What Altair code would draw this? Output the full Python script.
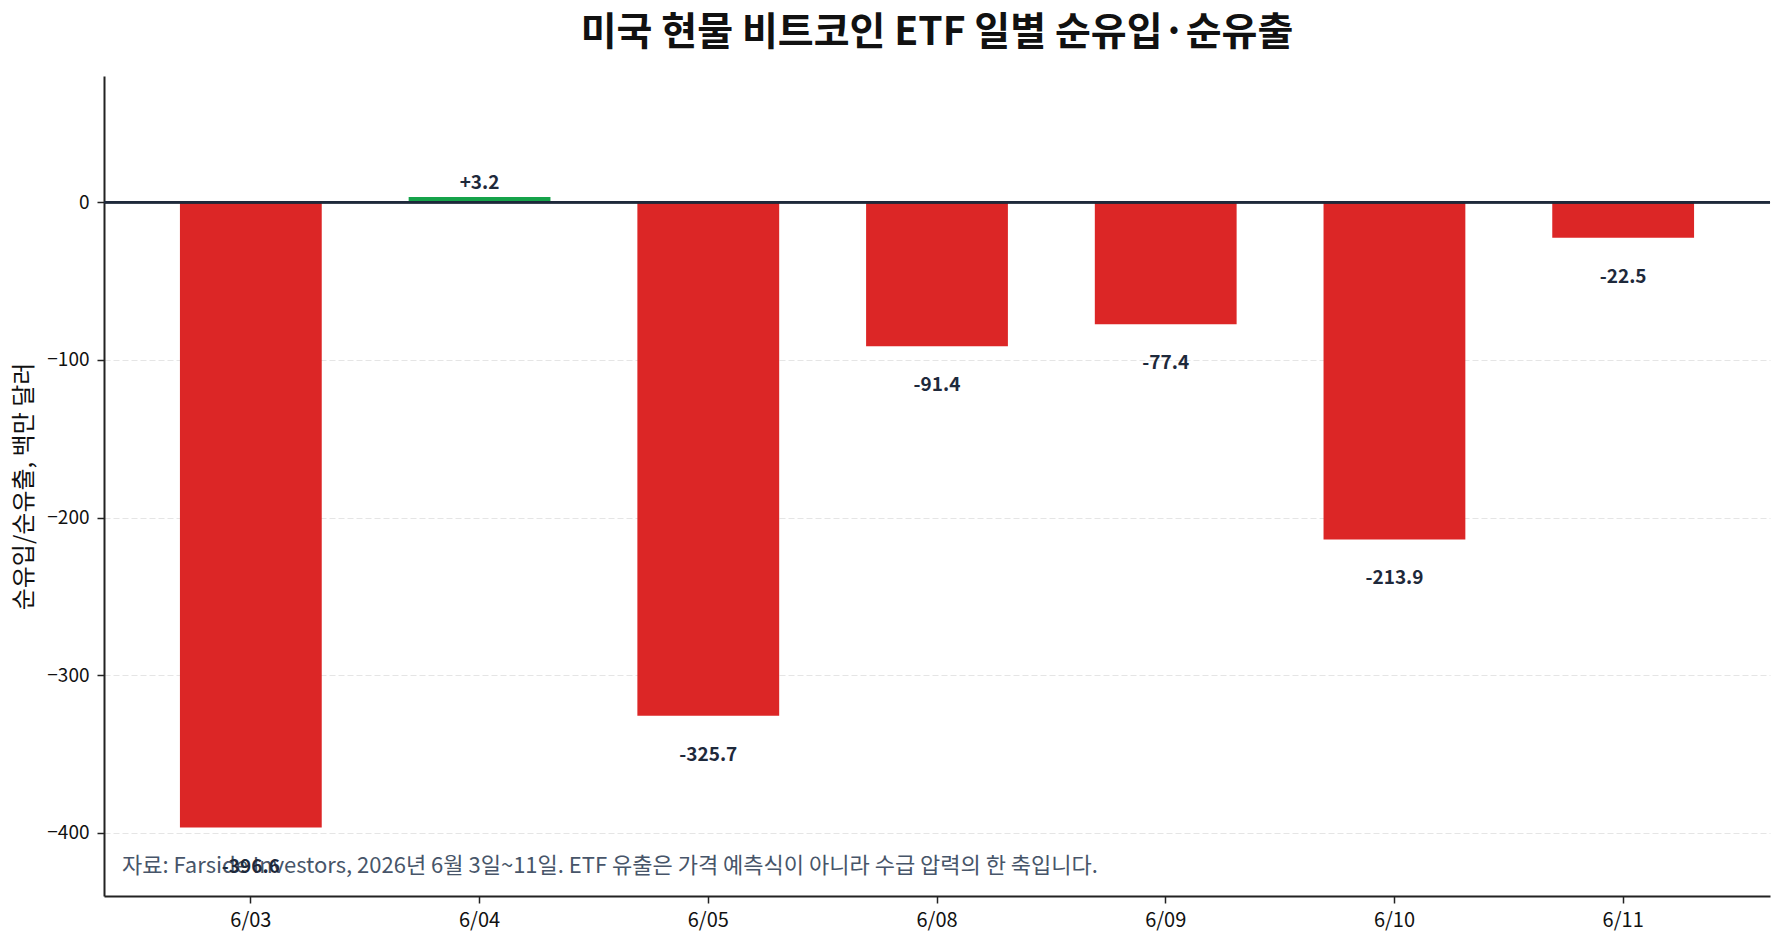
import altair as alt
import pandas as pd

dates = ["6/03", "6/04", "6/05", "6/08", "6/09", "6/10", "6/11"]
flows = [-396.6, 3.2, -325.7, -91.4, -77.4, -213.9, -22.5]
labels = ["-396.6", "+3.2", "-325.7", "-91.4", "-77.4", "-213.9", "-22.5"]
y_ticks = [-400, -300, -200, -100, 0]

title_text = "미국 현물 비트코인 ETF 일별 순유입·순유출"
y_title = "순유입/순유출, 백만 달러"
note_text = "자료: Farside Investors, 2026년 6월 3일~11일. ETF 유출은 가격 예측식이 아니라 수급 압력의 한 축입니다."

FONT = "Noto Sans CJK KR"
RED = "#dc2626"
GREEN = "#16a34a"
DARK = "#1e293b"

df = pd.DataFrame({"date": dates, "flow": flows, "label": labels})
df["sign"] = ["in" if v >= 0 else "out" for v in flows]

x_enc = alt.X(
    "date:N",
    sort=dates,
    title=None,
    scale=alt.Scale(paddingInner=0.38, paddingOuter=0.332),
    axis=alt.Axis(
        labelAngle=0,
        labelFontSize=20,
        labelFont=FONT,
        labelColor="#111111",
        labelPadding=7,
        tickSize=7,
        tickColor="#222222",
        tickWidth=1.5,
        domainColor="#222222",
        domainWidth=2,
        grid=False,
    ),
)
y_scale = alt.Scale(domain=[-440, 80], nice=False, zero=False)

bars = alt.Chart(df).mark_bar().encode(
    x=x_enc,
    y=alt.Y(
        "flow:Q",
        scale=y_scale,
        title=y_title,
        axis=alt.Axis(
            values=y_ticks,
            labelFontSize=19,
            labelFont=FONT,
            labelColor="#111111",
            labelPadding=8,
            tickSize=7,
            tickColor="#222222",
            tickWidth=1.5,
            domainColor="#222222",
            domainWidth=2,
            grid=True,
            gridColor="#e5e5e5",
            gridDash=[6, 3],
            gridWidth=1,
            titleFont=FONT,
            titleFontSize=24,
            titleFontWeight="normal",
            titleColor="#111111",
            titlePadding=10,
        ),
    ),
    y2=alt.datum(0),
    color=alt.Color(
        "sign:N",
        scale=alt.Scale(domain=["in", "out"], range=[GREEN, RED]),
        legend=None,
    ),
)

zero = alt.Chart(df).mark_rule(color=DARK, strokeWidth=2).encode(
    y=alt.datum(0)
)

neg_labels = (
    alt.Chart(df)
    .transform_filter("datum.flow < 0")
    .mark_text(
        font=FONT, fontSize=19, fontWeight="bold", color=DARK,
        baseline="middle", align="center", dy=39,
    )
    .encode(x=alt.X("date:N", sort=dates), y=alt.Y("flow:Q", scale=y_scale), text="label:N")
)
pos_labels = (
    alt.Chart(df)
    .transform_filter("datum.flow >= 0")
    .mark_text(
        font=FONT, fontSize=19, fontWeight="bold", color=DARK,
        baseline="middle", align="center", dy=-14,
    )
    .encode(x=alt.X("date:N", sort=dates), y=alt.Y("flow:Q", scale=y_scale), text="label:N")
)

note = alt.Chart(pd.DataFrame({"t": [note_text]})).mark_text(
    font=FONT, fontSize=22, color="#475569", align="left", baseline="middle"
).encode(x=alt.value(18), y=alt.value(790), text="t:N")

chart = (
    alt.layer(bars, zero, note, neg_labels, pos_labels)
    .properties(
        width=1666,
        height=820,
        autosize=alt.AutoSizeParams(type="none"),
        padding={"left": 104, "top": 76, "right": 14, "bottom": 51},
        title=alt.TitleParams(
            text=title_text,
            font=FONT,
            fontSize=39,
            fontWeight="bold",
            color="#111111",
            anchor="middle",
            offset=23,
        ),
    )
    .configure(background="white")
    .configure_view(strokeWidth=0, stroke="transparent")
)

chart.save("out.html", embed_options={"renderer": "svg", "actions": False})
